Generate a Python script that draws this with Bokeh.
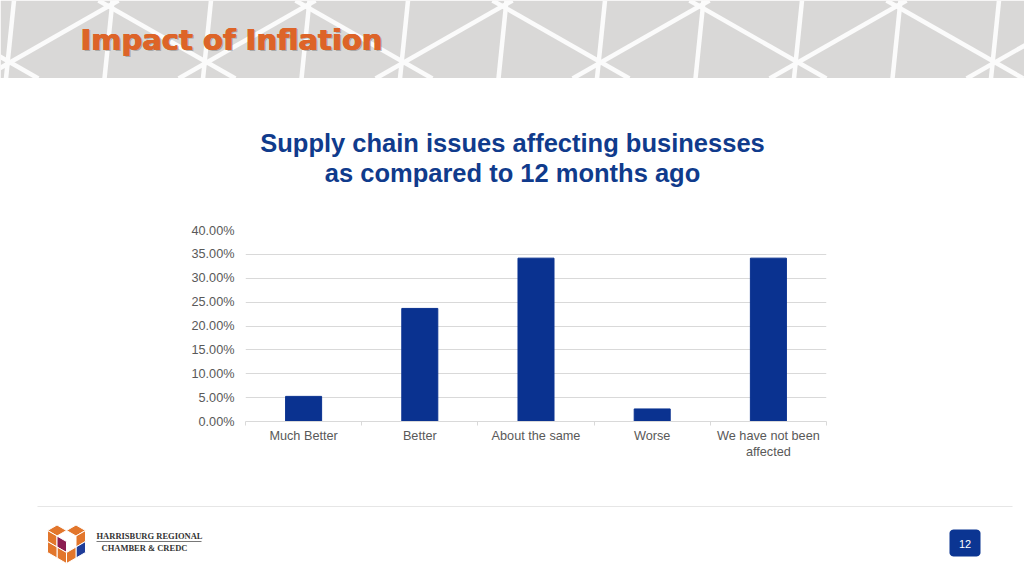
from bokeh.plotting import figure
from bokeh.models import Range1d, LinearAxis, FixedTicker, PrintfTickFormatter
from bokeh.layouts import column, row
from bokeh.core.properties import value
from bokeh.embed import file_html
from bokeh.resources import INLINE
import math

# ---------------- data ----------------
categories = ["Much Better", "Better", "About the same", "Worse", "We have not been\naffected"]
percent_values = [5.26, 23.68, 34.21, 2.63, 34.21]
y_ticks = [0, 5, 10, 15, 20, 25, 30, 35, 40]
header_title = "Impact of Inflation"
chart_title_lines = ["Supply chain issues affecting businesses", "as compared to 12 months ago"]
page_number = "12"

W = 1024
FONT = "Liberation Sans"
BLUE = "#0a3290"


def canvas(top, bottom):
    f = figure(width=W, height=bottom - top, x_range=Range1d(0, W),
               y_range=Range1d(bottom, top), output_backend="svg", toolbar_location=None,
               x_axis_location=None, y_axis_location=None, min_border=0)
    f.xgrid.visible = False
    f.ygrid.visible = False
    f.outline_line_color = None
    f.background_fill_color = "white"
    f.border_fill_color = "white"
    return f


# ---------------- header band ----------------
hdr = canvas(0, 78)
hdr.quad(left=[0], right=[1030], top=[0], bottom=[78], fill_color="#d9d8d7", line_color=None)
slope = 0.57
x0s, y0s, x1s, y1s = [], [], [], []
for k in range(-2, 7):
    a = 98 + 197 * k
    x0s.append(a); y0s.append(0); x1s.append(a + 78 / slope); y1s.append(78)
    b = 118 + 197 * k
    x0s.append(b); y0s.append(0); x1s.append(b - 78 / slope); y1s.append(78)
for k in range(-1, 11):
    c = 108 + 98.5 * k
    x0s.append(c + 4); y0s.append(0); x1s.append(c - 4); y1s.append(78)
hdr.segment(x0=x0s, y0=y0s, x1=x1s, y1=y1s, line_color="#fbfbfb", line_width=4.5)
hdr.text(x=[81.5], y=[40.5], text=[header_title], text_font=value("DejaVu Sans"), text_font_style="bold",
         text_font_size="29px", text_color="#7a7a7a", text_alpha=0.5, text_baseline="middle")
for dx in (0, 0.5, 1.0):
    hdr.text(x=[79.5 + dx], y=[39], text=[header_title], text_font=value("DejaVu Sans"), text_font_style="bold",
             text_font_size="29px", text_color="#dd6428", text_baseline="middle")

# ---------------- chart title ----------------
ttl = canvas(78, 210)
ttl.text(x=[512, 512], y=[142, 172], text=chart_title_lines, text_font=value(FONT),
         text_font_style="bold", text_font_size="25.5px", text_color="#103b8c",
         text_align="center", text_baseline="middle")

# ---------------- bar chart ----------------
n = len(categories)
centers = [i + 0.5 for i in range(n)]
p = figure(width=W, height=260, x_range=Range1d(0, n),
           y_range=Range1d(0, 40), output_backend="svg", toolbar_location=None,
           x_axis_location=None, y_axis_location="left",
           min_border_left=245, min_border_right=198, min_border_top=20, min_border_bottom=49)
p.outline_line_color = None
p.xgrid.visible = False
yt = FixedTicker(ticks=y_ticks)
p.yaxis.ticker = yt
p.ygrid.ticker = yt
p.ygrid.grid_line_color = "#d9d9d9"
p.ygrid.grid_line_width = 1
p.yaxis.formatter = PrintfTickFormatter(format="%.2f%%")
p.yaxis.axis_line_color = None
p.yaxis.major_tick_line_color = None
p.yaxis.minor_tick_line_color = None
p.yaxis.major_tick_out = 0
p.yaxis.major_tick_in = 0
p.yaxis.major_label_standoff = 11
p.yaxis.major_label_text_font = FONT
p.yaxis.major_label_text_font_size = "12.7px"
p.yaxis.major_label_text_color = "#595959"

overrides = {}
for c, lab in zip(centers, categories):
    overrides[c] = lab
    overrides[str(c)] = lab
x_axis = LinearAxis(ticker=FixedTicker(ticks=centers, minor_ticks=list(range(n + 1))),
                    major_label_overrides=overrides,
                    axis_line_color="#d9d9d9", major_tick_line_color=None,
                    minor_tick_line_color="#d9d9d9", minor_tick_out=4, minor_tick_in=0,
                    major_tick_out=0, major_tick_in=0,
                    major_label_standoff=3, major_label_text_font=FONT,
                    major_label_text_font_size="12.7px", major_label_text_color="#595959",
                    major_label_orientation="horizontal")
p.add_layout(x_axis, "below")

p.vbar(x=centers, top=percent_values, width=0.31, fill_color=BLUE, line_color=BLUE)

# ---------------- footer ----------------
ft = canvas(470, 576)
ft.segment(x0=[37], y0=[506], x1=[1012], y1=[506], line_color="#e6e6e6", line_width=1.2)

# logo (hexagon of rhombi)
T, UL, C, UR = (66, 519), (47, 530), (66, 541), (85, 530)
B, LL, LR = (66, 563), (47, 552), (85, 552)
def mid(a, b):
    return ((a[0] + b[0]) / 2, (a[1] + b[1]) / 2)
a_, b_, c_, d_ = mid(T, UL), mid(T, UR), mid(UL, C), mid(UR, C)
e_ = mid(T, C)
f_, g_, h_ = mid(C, B), mid(B, LL), mid(LL, UL)
i_ = mid(UL, B)
j_, k_ = mid(UR, LR), mid(LR, B)
l_ = mid(UR, B)
ORANGE, PURPLE, LBLUE = "#e2762c", "#8c1d52", "#1f3d99"
pieces = [
    ([a_, e_, c_, UL], ORANGE), ([b_, UR, d_, e_], ORANGE),
    ([UL, c_, i_, h_], ORANGE), ([c_, C, f_, i_], PURPLE), ([i_, f_, B, g_], ORANGE), ([h_, i_, g_, LL], ORANGE),
    ([UR, j_, l_, d_], ORANGE), ([j_, LR, k_, l_], LBLUE), ([l_, k_, B, f_], ORANGE),
]
ft.patches(xs=[[pt[0] for pt in pc] for pc, _ in pieces], ys=[[pt[1] for pt in pc] for pc, _ in pieces],
           fill_color=[col for _, col in pieces], line_color="white", line_width=1)
ft.text(x=[96], y=[535], text=["HARRISBURG REGIONAL"], text_font=value("Liberation Serif"),
        text_font_style="bold", text_font_size="8.5px", text_color="#333333", text_baseline="middle")
ft.segment(x0=[96], y0=[541], x1=[201], y1=[541], line_color="#555555", line_width=0.8)
ft.text(x=[101], y=[547], text=["CHAMBER & CREDC"], text_font=value("Liberation Serif"),
        text_font_style="bold", text_font_size="8.5px", text_color="#333333", text_baseline="middle")

# page number box (rounded)
bx0, bx1, by0, by1, r = 949, 980, 529, 556, 4
xs, ys = [], []
for cx, cy, a0 in [(bx1 - r, by0 + r, -90), (bx1 - r, by1 - r, 0), (bx0 + r, by1 - r, 90), (bx0 + r, by0 + r, 180)]:
    for s in range(0, 91, 15):
        ang = math.radians(a0 + s)
        xs.append(cx + r * math.cos(ang)); ys.append(cy + r * math.sin(ang))
ft.patch(x=xs, y=ys, fill_color="#0b3592", line_color=None)
ft.text(x=[964.5], y=[543], text=[page_number], text_font=value(FONT), text_font_size="11px",
        text_color="white", text_align="center", text_baseline="middle")

layout = column(row(hdr), row(ttl), row(p), row(ft), spacing=0)
open("out.html", "w").write(file_html(layout, INLINE))
